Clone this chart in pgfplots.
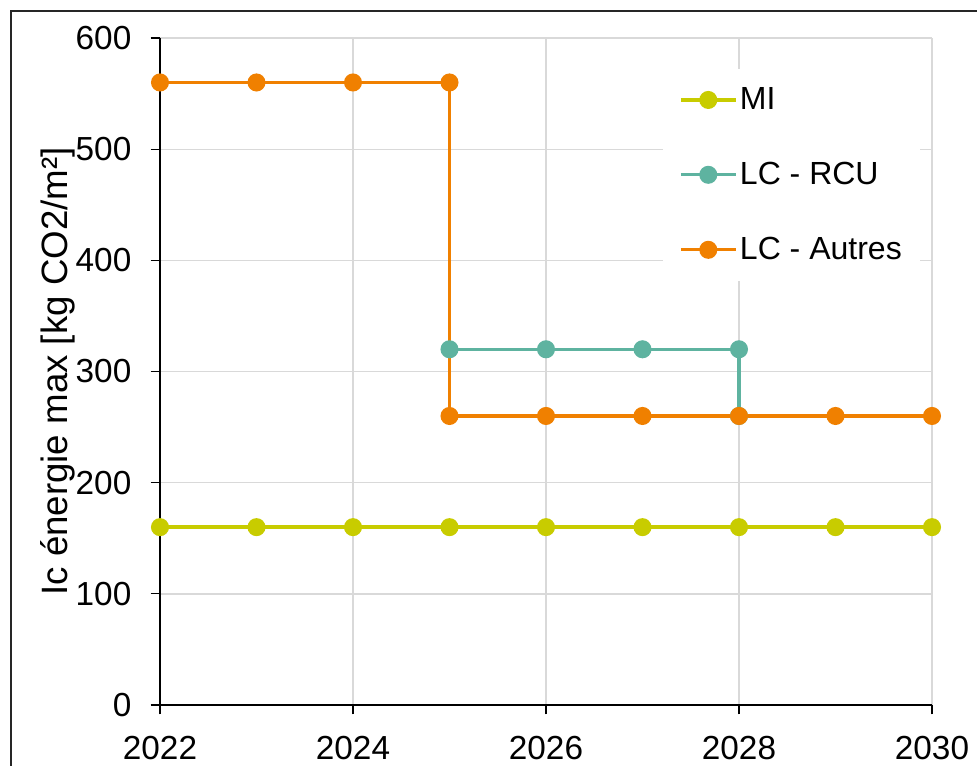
\documentclass[border=0pt]{standalone}
\usepackage{pgfplots}
\pgfplotsset{compat=1.18}
\usepackage{fontspec}
\setmainfont{Liberation Sans}
\definecolor{miC}{RGB}{200,204,0}
\definecolor{rcuC}{RGB}{94,179,160}
\definecolor{autC}{RGB}{240,128,0}
\definecolor{gridC}{RGB}{217,217,217}
\begin{document}
\begin{tikzpicture}
\useasboundingbox (0,0) rectangle (732.75pt,573.75pt);
\clip (0,0) rectangle (732.75pt,573.75pt);
\draw[line width=1pt,black!85] (8.25pt,-10pt) -- (8.25pt,565.5pt) -- (745pt,565.5pt);
\begin{axis}[
    at={(120pt,45pt)}, anchor=south west,
    scale only axis, width=579pt, height=500.25pt,
    xmin=2022, xmax=2030, ymin=0, ymax=600,
    xtick={2022,2024,...,2030}, ytick={0,100,...,600},
    /pgf/number format/.cd, set thousands separator={}, assume math mode=true,
    /pgfplots/.cd,
    axis x line*=bottom, axis y line*=left,
    axis line style={line width=0.9pt, -},
    tick align=outside, major tick length=7pt,
    tick style={line width=0.9pt, black},
    grid=major, major grid style={gridC, line width=1pt},
    ticklabel style={font=\fontsize{25}{30}\selectfont},
    yticklabel style={xshift=-11pt},
    xticklabel style={yshift=-13pt},
    ylabel={Ic énergie max [kg CO2/m²]},
    every axis y label/.style={at={(axis description cs:-0.132,0.5)}, rotate=90, anchor=center,
        font=\fontsize{27.5}{32}\selectfont},
    legend style={at={(0.6516,0.9535)}, anchor=north west, draw=none, fill=white,
        font=\fontsize{24}{28}\selectfont, row sep=34pt, inner sep=12pt},
    legend cell align=left,
    legend image code/.code={\draw[mark repeat=2,mark phase=2] plot coordinates {(0pt,0pt)(20.5pt,0pt)(41pt,0pt)};},
    every axis plot/.append style={line width=2.5pt, mark=*, mark size=5.5pt},
]
\addplot[miC, mark options={fill=miC, draw=miC}] coordinates {
    (2022,160) (2023,160) (2024,160) (2025,160) (2026,160) (2027,160) (2028,160) (2029,160) (2030,160)
};
\addlegendentry{MI}
\addplot[rcuC, mark options={fill=rcuC, draw=rcuC}] coordinates {
    (2025,320) (2026,320) (2027,320) (2028,320) (2028,260)
};
\addlegendentry{LC - RCU}
\addplot[autC, mark options={fill=autC, draw=autC}] coordinates {
    (2022,560) (2023,560) (2024,560) (2025,560) (2025,260) (2026,260) (2027,260) (2028,260) (2029,260) (2030,260)
};
\addlegendentry{LC - Autres}
\end{axis}
\end{tikzpicture}
\end{document}
